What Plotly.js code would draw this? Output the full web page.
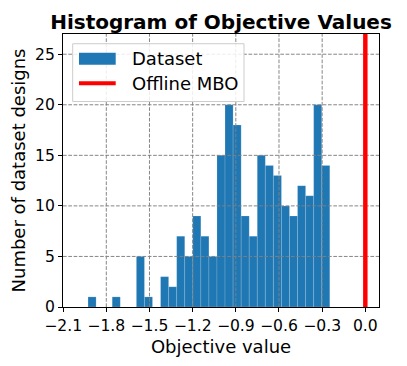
<!DOCTYPE html>
<html><head><meta charset="utf-8">
<script src="https://cdn.plot.ly/plotly-3.0.1.min.js"></script>
<style>html,body{margin:0;padding:0;background:#fff}#chart{width:407px;height:366px}</style>
</head><body><div id="chart"></div>
<script>
// ---- data ----
const binStart = -1.927;
const binWidth = 0.056;
const counts = [1,0,0,1,0,0,5,1,0,3,2,7,5,9,7,5,15,20,18,9,7,15,14,13,10,9,12,11,20,14];
const mboValue = 0.0;
const xTickVals = [-2.1,-1.8,-1.5,-1.2,-0.9,-0.6,-0.3,0.0];
const xTickText = ['\u22122.1','\u22121.8','\u22121.5','\u22121.2','\u22120.9','\u22120.6','\u22120.3','0.0'];
const yTickVals = [0,5,10,15,20,25];
const yTickText = ['0','5','10','15','20','25'];
const legendLabels = ['Dataset','Offline MBO'];
const titleText = 'Histogram of Objective Values';
const xLabel = 'Objective value';
const yLabel = 'Number of dataset designs';

// ---- layout constants ----
const xRange = [-2.101, 0.095];
const yRange = [0, 27];
const FONT = 'DejaVu Sans, sans-serif';
const blue = '#1f77b4';
const red = '#ff0000';

const centers = counts.map((c, i) => binStart + (i + 0.5) * binWidth);

const traces = [
  {
    type: 'bar', x: centers, y: counts, width: binWidth, name: legendLabels[0],
    marker: {color: blue, line: {color: 'rgba(255,255,255,0.25)', width: 0.6}},
    showlegend: false, hoverinfo: 'skip'
  },
  {
    type: 'scatter', mode: 'lines', x: [mboValue, mboValue], y: yRange, name: legendLabels[1],
    line: {color: red, width: 4}, showlegend: false, hoverinfo: 'skip'
  }
];

const shapes = [];
const gridLine = {color: 'rgba(128,128,128,0.95)', width: 1, dash: '3.7px,1.6px'};
xTickVals.filter(v => v > xRange[0] + 0.01 && v < xRange[1]).forEach(v => {
  shapes.push({type: 'line', layer: 'above', xref: 'x', yref: 'paper', x0: v, x1: v, y0: 0, y1: 1, line: gridLine});
});
yTickVals.filter(v => v > yRange[0] && v < yRange[1]).forEach(v => {
  shapes.push({type: 'line', layer: 'above', xref: 'paper', yref: 'y', x0: 0, x1: 1, y0: v, y1: v, line: gridLine});
});
// red vertical line above grid
shapes.push({type: 'line', layer: 'above', xref: 'x', yref: 'paper', x0: mboValue, x1: mboValue, y0: 0, y1: 1,
  line: {color: red, width: 4}});
// legend box
shapes.push({type: 'rect', layer: 'above', xref: 'paper', yref: 'paper', x0: 0.0307, x1: 0.5728, y0: 0.7526, y1: 0.9644,
  fillcolor: 'rgba(255,255,255,0.85)', line: {color: '#cccccc', width: 1}});
shapes.push({type: 'rect', layer: 'above', xref: 'paper', yref: 'paper', x0: 0.0506, x1: 0.1668, y0: 0.8873, y1: 0.9314,
  fillcolor: blue, line: {width: 0}});
shapes.push({type: 'line', layer: 'above', xref: 'paper', yref: 'paper', x0: 0.0506, x1: 0.1668, y0: 0.8194, y1: 0.8194,
  line: {color: red, width: 4}});

const annotations = [
  {xref: 'paper', yref: 'paper', x: 0.212, y: 0.9093, xanchor: 'left', yanchor: 'middle', showarrow: false,
   text: legendLabels[0], height: 21, font: {family: FONT, size: 18, color: '#000'}},
  {xref: 'paper', yref: 'paper', x: 0.212, y: 0.8194, xanchor: 'left', yanchor: 'middle', showarrow: false,
   text: legendLabels[1], height: 21, font: {family: FONT, size: 18, color: '#000'}}
];

const layout = {
  width: 407, height: 366,
  margin: {l: 63, r: 28, t: 34, b: 59, pad: 0},
  paper_bgcolor: '#fff', plot_bgcolor: '#fff',
  font: {family: FONT, color: '#000'},
  title: {text: titleText, font: {family: FONT, size: 20, weight: 'bold', color: '#000'},
          x: 0.5, xanchor: 'center', y: 0.94, yanchor: 'middle', xref: 'paper', yref: 'container'},
  showlegend: false,
  bargap: 0,
  xaxis: {
    range: xRange, tickmode: 'array', tickvals: xTickVals, ticktext: xTickText,
    showgrid: false, zeroline: false, showline: true, mirror: true, linecolor: '#000', linewidth: 1,
    ticks: 'outside', ticklen: 4, tickcolor: '#000', tickwidth: 1,
    tickfont: {family: FONT, size: 15.6, color: '#000'},
    title: {text: xLabel, font: {family: FONT, size: 18, color: '#000'}, standoff: 6}
  },
  yaxis: {
    range: yRange, tickmode: 'array', tickvals: yTickVals, ticktext: yTickText,
    showgrid: false, zeroline: false, showline: true, mirror: true, linecolor: '#000', linewidth: 1,
    ticks: 'outside', ticklen: 4, tickcolor: '#000', tickwidth: 1,
    tickfont: {family: FONT, size: 15.6, color: '#000'},
    title: {text: yLabel, font: {family: FONT, size: 18, color: '#000'}, standoff: 4}
  },
  shapes: shapes,
  annotations: annotations
};

Plotly.newPlot('chart', traces, layout, {staticPlot: true, displayModeBar: false});
</script>
</body></html>
